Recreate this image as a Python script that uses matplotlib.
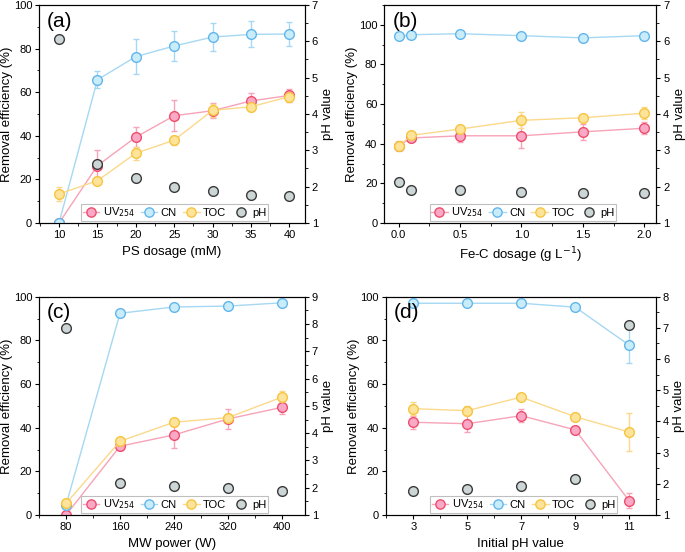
import matplotlib.pyplot as plt
from matplotlib.ticker import AutoMinorLocator

plt.rcParams['font.family'] = ['Liberation Sans', 'DejaVu Sans']

# (a) PS dosage
a_x = [10, 15, 20, 25, 30, 35, 40]
a_uv = [0, 26.3, 39.4, 49.2, 51.5, 56.0, 58.5]
a_uv_err = [0.5, 7.0, 4.5, 7.0, 3.5, 3.5, 3.0]
a_cn = [0, 65.7, 76.3, 81.2, 85.3, 86.5, 86.7]
a_cn_err = [0.5, 4.0, 8.0, 7.0, 6.3, 6.0, 5.3]
a_toc = [13.3, 19.4, 32.0, 38.0, 51.7, 53.3, 58.0]
a_toc_err = [3.3, 1.5, 3.0, 2.0, 3.0, 2.0, 2.5]
a_ph = [6.06, 2.62, 2.25, 2.00, 1.88, 1.77, 1.73]
a_ph_err = [0.05, 0.05, 0.05, 0.04, 0.04, 0.04, 0.04]

# (b) Fe-C dosage
b_x = [0.0, 0.1, 0.5, 1.0, 1.5, 2.0]
b_uv = [39.0, 42.9, 44.0, 44.0, 46.0, 47.8]
b_uv_err = [1.5, 1.5, 3.0, 6.0, 4.0, 3.0]
b_cn = [94.1, 95.0, 95.5, 94.5, 93.4, 94.5]
b_cn_err = [1.0, 1.0, 1.0, 1.0, 1.0, 1.0]
b_toc = [38.7, 44.2, 47.4, 51.8, 53.1, 55.4]
b_toc_err = [2.5, 1.5, 1.5, 4.0, 1.5, 3.0]
b_ph = [2.14, 1.92, 1.92, 1.86, 1.82, 1.83]
b_ph_err = [0.1, 0.05, 0.05, 0.05, 0.05, 0.05]

# (c) MW power
c_x = [80, 160, 240, 320, 400]
c_uv = [0, 31.5, 36.7, 44.0, 49.3]
c_uv_err = [0.5, 1.5, 6.0, 4.5, 3.0]
c_cn = [4.5, 92.4, 95.3, 95.7, 97.2]
c_cn_err = [1.0, 1.0, 1.0, 1.0, 1.0]
c_toc = [5.3, 33.8, 42.5, 44.6, 54.0]
c_toc_err = [1.0, 1.5, 1.5, 1.5, 3.0]
c_ph = [7.86, 2.17, 2.05, 1.98, 1.88]
c_ph_err = [0.1, 0.05, 0.05, 0.05, 0.05]

# (d) initial pH
d_x = [3, 5, 7, 9, 11]
d_uv = [42.5, 41.8, 45.5, 39.0, 6.5]
d_uv_err = [3.0, 4.0, 3.0, 1.5, 3.5]
d_cn = [97.0, 97.0, 97.0, 95.2, 77.8]
d_cn_err = [0.8, 0.8, 0.8, 1.0, 8.0]
d_toc = [48.7, 47.8, 54.0, 45.0, 38.0]
d_toc_err = [3.0, 2.0, 1.5, 1.5, 8.5]
d_ph = [1.77, 1.84, 1.92, 2.16, 7.08]
d_ph_err = [0.05, 0.05, 0.05, 0.05, 0.1]

# colours: (line, marker edge, marker face)
uv_col = ('#f7a3b8', '#ef4d6d', '#f9a8c6')
cn_col = ('#a6d8f3', '#62b6ec', '#c8ecf8')
toc_col = ('#fbd98c', '#f6c440', '#fde49a')
ph_col = ('#404040', '#3a3a3a', '#cdd6d6')

fig = plt.figure(figsize=(6.85, 5.52), dpi=100)

panels = [
    dict(pos=[0.057, 0.596, 0.388, 0.395], x=a_x, uv=a_uv, uve=a_uv_err, cn=a_cn, cne=a_cn_err,
         toc=a_toc, toce=a_toc_err, ph=a_ph, phe=a_ph_err, xlim=(7.4, 42), ylim=(0, 100),
         ylim2=(1, 7), xticks=a_x, xticklabels=[str(v) for v in a_x],
         xlabel='PS dosage (mM)', tag='(a)'),
    dict(pos=[0.561, 0.596, 0.397, 0.395], x=b_x, uv=b_uv, uve=b_uv_err, cn=b_cn, cne=b_cn_err,
         toc=b_toc, toce=b_toc_err, ph=b_ph, phe=b_ph_err, xlim=(-0.117, 2.098), ylim=(0, 110),
         ylim2=(1, 7), xticks=[0, 0.5, 1.0, 1.5, 2.0], xticklabels=['0.0', '0.5', '1.0', '1.5', '2.0'],
         xlabel='Fe-C dosage (g L$^{-1}$)', tag='(b)'),
    dict(pos=[0.057, 0.067, 0.388, 0.3955], x=c_x, uv=c_uv, uve=c_uv_err, cn=c_cn, cne=c_cn_err,
         toc=c_toc, toce=c_toc_err, ph=c_ph, phe=c_ph_err, xlim=(40, 434), ylim=(0, 100),
         ylim2=(1, 9), xticks=c_x, xticklabels=[str(v) for v in c_x],
         xlabel='MW power (W)', tag='(c)'),
    dict(pos=[0.563, 0.067, 0.3946, 0.3955], x=d_x, uv=d_uv, uve=d_uv_err, cn=d_cn, cne=d_cn_err,
         toc=d_toc, toce=d_toc_err, ph=d_ph, phe=d_ph_err, xlim=(1.98, 11.99), ylim=(0, 100),
         ylim2=(1, 8), xticks=d_x, xticklabels=[str(v) for v in d_x],
         xlabel='Initial pH value', tag='(d)'),
]

for p in panels:
    ax = fig.add_axes(p['pos'])
    handles = []
    for y, e, col, lab in [(p['uv'], p['uve'], uv_col, 'UV$_{254}$'),
                           (p['cn'], p['cne'], cn_col, 'CN'),
                           (p['toc'], p['toce'], toc_col, 'TOC')]:
        ax.errorbar(p['x'], y, yerr=e, fmt='none', ecolor=col[0], elinewidth=1,
                    capsize=2.5, capthick=1, zorder=2)
        h, = ax.plot(p['x'], y, '-o', color=col[0], lw=1, ms=7, mfc=col[2],
                     mec=col[1], mew=1, label=lab, zorder=3)
        handles.append(h)
    ax.set_xlim(*p['xlim'])
    ax.set_ylim(*p['ylim'])
    ax.set_xticks(p['xticks'])
    ax.set_xticklabels(p['xticklabels'])
    ax.set_yticks(range(0, 101, 20))
    ax.xaxis.set_minor_locator(AutoMinorLocator(2))
    ax.yaxis.set_minor_locator(AutoMinorLocator(2))
    ax.tick_params(which='both', direction='out', labelsize=8, top=False, right=False, pad=2)
    ax.tick_params(which='major', length=3)
    ax.tick_params(which='minor', length=1.8)
    ax.set_xlabel(p['xlabel'], fontsize=9.5, labelpad=4)
    ax.set_ylabel('Removal efficiency (%)', fontsize=9.5, labelpad=0.5)
    ax.text(0.03, 0.97, p['tag'], transform=ax.transAxes, fontsize=15, va='top', ha='left')

    ax2 = ax.twinx()
    ax2.errorbar(p['x'], p['ph'], yerr=p['phe'], fmt='none', ecolor=ph_col[0], elinewidth=0.8,
                 capsize=2, capthick=0.8, zorder=2)
    h, = ax2.plot(p['x'], p['ph'], 'o', ls='none', ms=7, mfc=ph_col[2], mec=ph_col[1],
                  mew=1, label='pH', zorder=3)
    handles.append(h)
    ax2.set_ylim(*p['ylim2'])
    ax2.yaxis.set_minor_locator(AutoMinorLocator(2))
    ax2.tick_params(which='both', direction='out', labelsize=8, pad=2)
    ax2.tick_params(which='major', length=3)
    ax2.tick_params(which='minor', length=1.8)
    ax2.set_ylabel('pH value', fontsize=9.5, labelpad=3)

    leg = ax2.legend(handles=handles, loc='lower center', bbox_to_anchor=(0.51, 0.0), ncol=4,
                     fontsize=8, frameon=True, fancybox=False, handlelength=1.5,
                     handletextpad=0.3, columnspacing=0.55, borderpad=0.12, borderaxespad=0.2,
                     markerscale=0.95)
    leg.get_frame().set_edgecolor('#b0b0b0')
    leg.get_frame().set_linewidth(0.8)

fig.savefig('out.png', dpi=100)
